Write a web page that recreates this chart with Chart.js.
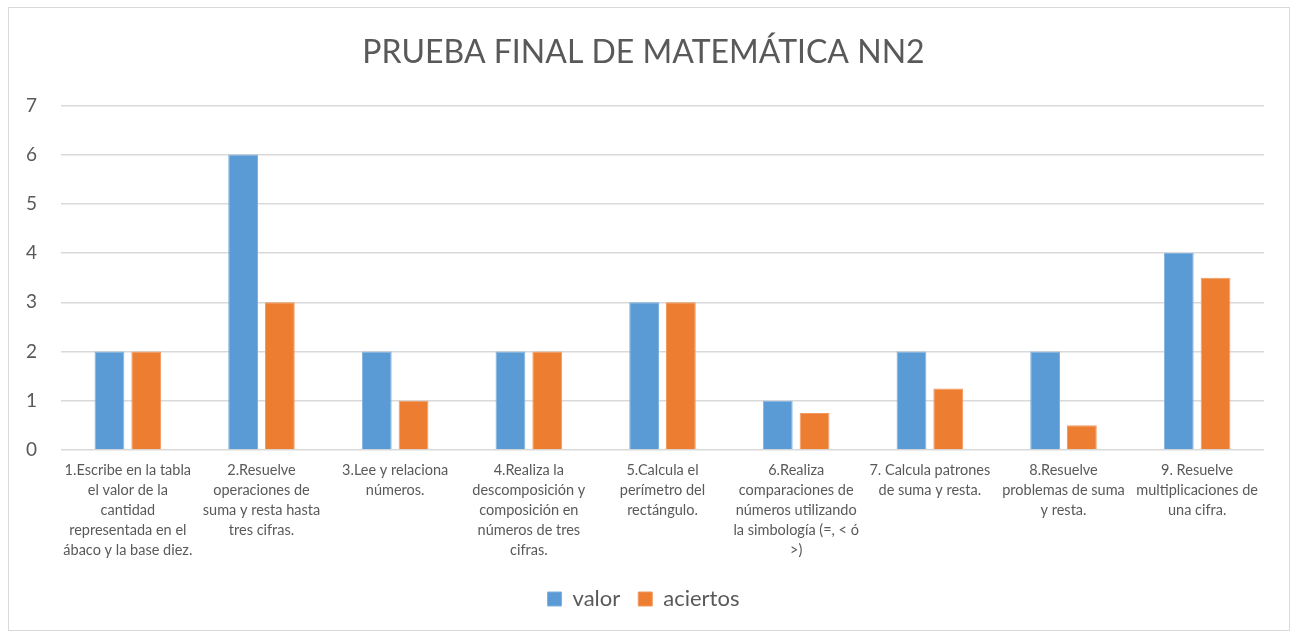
<!DOCTYPE html>
<html>
<head>
<meta charset="utf-8">
<script src="https://cdn.jsdelivr.net/npm/chart.js@4.4.1/dist/chart.umd.min.js"></script>
<style>
  html, body { margin: 0; padding: 0; background: #ffffff; }
  #wrap { position: absolute; left: 8px; top: 7px; width: 1282px; height: 624px; border: 1px solid #d9d9d9; box-sizing: border-box; background: #fff; }
  canvas { display: block; }
</style>
</head>
<body>
<div id="wrap"><canvas id="c"></canvas></div>
<script>
const chartTitle = "PRUEBA FINAL DE MATEMÁTICA NN2";
const categories = [
  ["1.Escribe en la tabla", "el valor de la", "cantidad", "representada en el", "ábaco y la base diez."],
  ["2.Resuelve", "operaciones de", "suma y resta hasta", "tres cifras."],
  ["3.Lee y relaciona", "números."],
  ["4.Realiza la", "descomposición y", "composición en", "números de tres", "cifras."],
  ["5.Calcula el", "perímetro del", "rectángulo."],
  ["6.Realiza", "comparaciones de", "números utilizando", "la simbología (=, < ó", ">)"],
  ["7. Calcula patrones", "de suma y resta."],
  ["8.Resuelve", "problemas de suma", "y resta."],
  ["9. Resuelve", "multiplicaciones de", "una cifra."]
];
const seriesNames = ["valor", "aciertos"];
const valor = [2, 6, 2, 2, 3, 1, 2, 2, 4];
const aciertos = [2, 3, 1, 2, 3, 0.75, 1.25, 0.5, 3.5];
const yTicks = [0, 1, 2, 3, 4, 5, 6, 7];

const FONT = "Lato, 'Open Sans', sans-serif";
const TXT = "#595959";

new Chart(document.getElementById('c'), {
  type: 'bar',
  data: {
    labels: categories,
    datasets: [
      { label: seriesNames[0], data: valor, backgroundColor: '#5B9BD5', borderColor: '#7fb1de', borderWidth: 1,
        categoryPercentage: 0.55, barPercentage: 0.81 },
      { label: seriesNames[1], data: aciertos, backgroundColor: '#ED7D31', borderColor: '#f29a5e', borderWidth: 1,
        categoryPercentage: 0.55, barPercentage: 0.81 }
    ]
  },
  options: {
    responsive: true,
    maintainAspectRatio: false,
    animation: false,
    layout: { padding: { left: 14, right: 25, top: 0, bottom: 10 } },
    plugins: {
      title: {
        display: true, text: chartTitle, color: TXT,
        font: { family: FONT, size: 32, weight: '400' },
        padding: { top: 25, bottom: 34 }
      },
      legend: {
        position: 'bottom',
        labels: {
          color: TXT, font: { family: FONT, size: 22 },
          boxWidth: 14, boxHeight: 14, padding: 18
        }
      },
      tooltip: { enabled: false }
    },
    scales: {
      x: {
        grid: { display: false, drawTicks: false },
        border: { display: false },
        ticks: {
          color: TXT, font: { family: FONT, size: 14.5, lineHeight: 1.38 },
          maxRotation: 0, minRotation: 0, autoSkip: false, padding: 10
        }
      },
      y: {
        min: 0, max: 7,
        afterBuildTicks: (s) => { s.ticks = yTicks.map(v => ({ value: v })); },
        afterFit: (s) => { s.width = 38; },
        grid: { color: '#d9d9d9', lineWidth: 1.5, drawTicks: false },
        border: { display: false },
        ticks: { color: TXT, font: { family: FONT, size: 19 }, padding: 24, stepSize: 1 }
      }
    }
  }
});
</script>
</body>
</html>
